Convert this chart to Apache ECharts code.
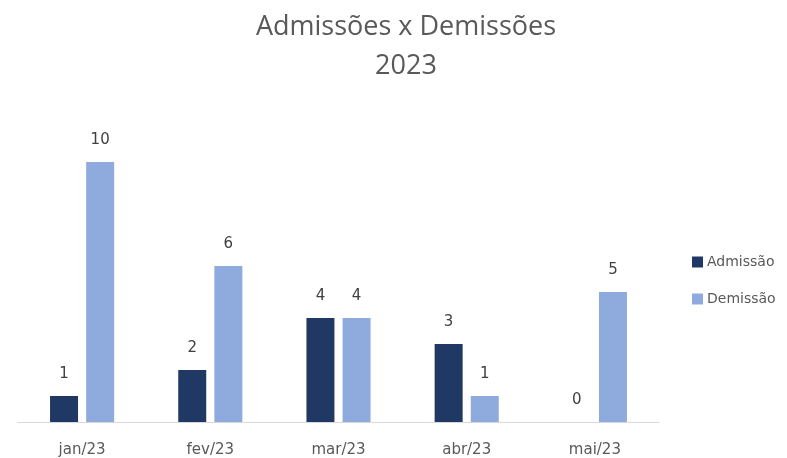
<!DOCTYPE html>
<html>
<head>
<meta charset="utf-8">
<script src="https://cdn.jsdelivr.net/npm/echarts@6/dist/echarts.min.js"></script>
<style>
  html, body { margin: 0; padding: 0; background: #fff; }
  #main { width: 787px; height: 458px; }
</style>
</head>
<body>
<div id="main"></div>
<script>
var meses = ['jan/23', 'fev/23', 'mar/23', 'abr/23', 'mai/23']
var admissao = [1, 2, 4, 3, 0]
var demissao = [10, 6, 4, 1, 5]

var chart = echarts.init(document.getElementById('main'))
var fonte = 'DejaVu Sans'
var rotulo = {
  show: true,
  position: 'top',
  distance: 14,
  color: '#404040',
  fontFamily: fonte,
  fontSize: 15
}
var option = {
  animation: false,
  title: {
    text: 'Admissões x Demissões\n2023',
    left: 401,
    textAlign: 'center',
    top: 3,
    textStyle: {
      color: '#595959',
      fontFamily: 'Open Sans',
      fontWeight: 'normal',
      fontSize: 27,
      lineHeight: 39
    }
  },
  legend: {
    orient: 'vertical',
    left: 687,
    top: 250,
    itemWidth: 11,
    itemHeight: 11,
    itemGap: 23,
    icon: 'rect',
    textStyle: { color: '#595959', fontFamily: fonte, fontSize: 14, padding: [0, 0, 0, -1] },
    data: ['Admissão', 'Demissão']
  },
  grid: { left: 18, right: 128, top: 110, bottom: 35 },
  xAxis: {
    type: 'category',
    data: meses,
    axisLine: { lineStyle: { color: '#d9d9d9', width: 1 } },
    axisTick: { show: false },
    axisLabel: { color: '#595959', fontFamily: fonte, fontSize: 15, margin: 21 }
  },
  yAxis: {
    type: 'value',
    min: 0,
    max: 12,
    show: false,
    splitLine: { show: false }
  },
  series: [
    {
      name: 'Admissão',
      type: 'bar',
      data: admissao,
      barWidth: 28,
      barGap: '29%',
      itemStyle: { color: '#1f3864' },
      label: rotulo
    },
    {
      name: 'Demissão',
      type: 'bar',
      data: demissao,
      barWidth: 28,
      itemStyle: { color: '#8faadc' },
      label: rotulo
    }
  ]
}
chart.setOption(option)
</script>
</body>
</html>
